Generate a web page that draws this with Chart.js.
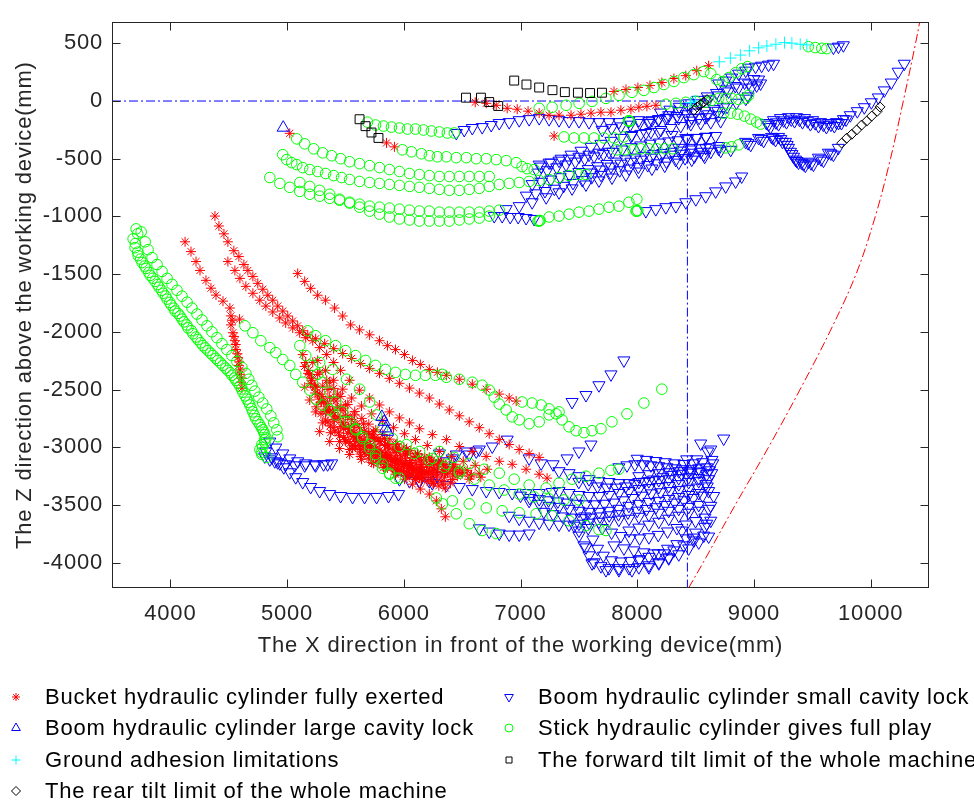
<!DOCTYPE html>
<html><head><meta charset="utf-8">
<script src="https://cdn.jsdelivr.net/npm/chart.js@4/dist/chart.umd.min.js"></script>
<style>
html,body{margin:0;padding:0;background:#fff;width:974px;height:801px;overflow:hidden;}
#wrap{position:absolute;left:0;top:0;width:974px;height:665px;}
#legend{position:absolute;left:0;top:0;width:974px;height:801px;pointer-events:none;}
.item{position:absolute;height:30px;line-height:30px;font-family:'Liberation Sans',Arial,sans-serif;font-size:22px;letter-spacing:0.8px;color:#000;white-space:nowrap;}
</style></head><body>
<div id="wrap"><canvas id="c"></canvas></div>
<div id="legend"></div>
<script>
// ---------- axis ticks & labels ----------
const xTickValues = [4000, 5000, 6000, 7000, 8000, 9000, 10000];
const yTickValues = [-4000, -3500, -3000, -2500, -2000, -1500, -1000, -500, 0, 500];
const xTitle = 'The X direction in front of the working device(mm)';
const yTitle = 'The Z direction above the working device(mm)';
const seriesNames = [
  'Bucket hydraulic cylinder fully exerted',
  'Boom hydraulic cylinder small cavity lock',
  'Boom hydraulic cylinder large cavity lock',
  'Stick hydraulic cylinder gives full play',
  'Ground adhesion limitations',
  'The forward tilt limit of the whole machine',
  'The rear tilt limit of the whole machine'
];

// ---------- Bucket hydraulic cylinder fully exerted (red *) ----------
const bucketUpperA = [[6612,-11],[6707,-20],[6792,-37],[6886,-63],[6972,-71],[7065,-88],[7160,-105],[7245,-123],[7330,-123],[7433,-123],[7518,-114],[7604,-105],[7689,-97],[7775,-97],[7860,-80],[7946,-71],[8014,-54],[8083,-46],[8160,-37]];
const bucketUpperB = [[7801,83],[7904,100],[8006,117],[8109,135],[8211,160],[8314,195],[8416,220],[8510,263],[8612,306]];
const bucketSingles = [[5023,-280],[5852,-363],[5920,-397],[7288,-303]];
const bucketLowA = [[4126,-1220],[4177,-1305],[4220,-1391],[4254,-1468],[4305,-1554],[4348,-1622],[4391,-1682],[4451,-1734],[4510,-1794],[4519,-1862],[4593,-1890],[4530,-1900],[4519,-1940],[4536,-2008],[4545,-2040],[4553,-2077],[4560,-2110],[4562,-2154],[4575,-2190],[4579,-2222],[4590,-2260],[4587,-2291],[4600,-2330],[4596,-2368],[4610,-2400],[4605,-2437],[4613,-2488]];
const bucketLowB = [[4382,-997],[4416,-1083],[4459,-1151],[4493,-1220],[4544,-1297],[4587,-1348],[4630,-1417],[4664,-1468],[4707,-1520],[4749,-1580],[4792,-1631],[4835,-1683],[4877,-1726],[4920,-1777],[4963,-1820],[5006,-1863],[5048,-1906],[5091,-1948],[5134,-1991],[5177,-2026],[5245,-2060],[5322,-2103],[5399,-2146],[5476,-2188],[5553,-2231],[5630,-2274],[5707,-2317],[5792,-2360],[5877,-2403],[5963,-2446],[6049,-2488],[6134,-2531],[6219,-2574],[6305,-2626],[6390,-2677],[6476,-2728],[6561,-2780],[6647,-2831],[6732,-2883],[6818,-2934],[6903,-2977],[6989,-3020],[7074,-3054],[7160,-3088]];
const bucketLowC = [[4493,-1391],[4553,-1468],[4596,-1537],[4647,-1606],[4707,-1666],[4766,-1726],[4818,-1777],[4877,-1828],[4937,-1880],[4988,-1923],[5048,-1966],[5108,-2008],[5160,-2051],[5220,-2077],[5279,-2137],[5339,-2197],[5399,-2266],[5458,-2334],[5536,-2420],[5621,-2506],[5707,-2574],[5792,-2634],[5877,-2694],[5963,-2746],[6049,-2789],[6134,-2840],[6245,-2891],[6365,-2934],[6476,-2994],[6587,-3037],[6706,-3080],[6818,-3122],[6929,-3148],[7048,-3191],[7160,-3234],[7228,-3268]];
const bucketLowD = [[5091,-1494],[5151,-1563],[5202,-1623],[5262,-1683],[5330,-1726],[5407,-1794],[5476,-1863],[5544,-1940],[5621,-1983],[5707,-2026],[5792,-2077],[5860,-2120],[5929,-2154],[6006,-2197],[6074,-2248],[6142,-2283],[6219,-2326],[6288,-2351],[6365,-2377],[6476,-2411],[6587,-2454],[6706,-2497],[6818,-2540],[6903,-2574],[6963,-2600]];
const bucketBlobA = [[5220,-2266],[5262,-2369],[5305,-2471],[5365,-2566],[5433,-2651],[5501,-2728],[5578,-2797],[5664,-2865],[5749,-2925],[5843,-2977],[5937,-3020],[6031,-3054],[6134,-3088],[6236,-3122],[6339,-3148],[6441,-3174],[6544,-3200],[6647,-3225]];
const bucketBlobB = [[5194,-2369],[5237,-2480],[5279,-2583],[5339,-2677],[5407,-2763],[5484,-2840],[5570,-2908],[5655,-2968],[5749,-3020],[5843,-3063],[5946,-3105],[6049,-3140],[6151,-3174],[6254,-3200],[6356,-3225],[6459,-3251],[6561,-3277]];
const bucketBlobC = [[5262,-2248],[5330,-2334],[5399,-2420],[5476,-2497],[5553,-2574],[5638,-2643],[5724,-2711],[5818,-2771],[5912,-2831],[6006,-2883],[6100,-2934],[6202,-2985],[6305,-3037],[6407,-3080],[6510,-3122],[6612,-3157],[6715,-3191]];
const bucketBlobD = [[5151,-2480],[5194,-2591],[5245,-2694],[5305,-2789],[5373,-2874],[5450,-2951],[5536,-3020],[5630,-3080],[5724,-3131],[5826,-3174],[5929,-3208],[6031,-3243],[6134,-3268],[6236,-3294],[6339,-3320]];
const bucketBlobE = [[5365,-2437],[5433,-2540],[5501,-2634],[5578,-2720],[5655,-2797],[5741,-2865],[5835,-2925],[5929,-2977],[6023,-3020],[6117,-3054],[6219,-3088],[6322,-3122],[6425,-3148]];
const bucketBlobF = [[5279,-2865],[5365,-2951],[5450,-3011],[5536,-3063],[5638,-3105],[5741,-3140],[5843,-3174],[5946,-3208],[6049,-3243],[6151,-3277],[6254,-3311],[6356,-3354]];
const bucketBlobG = [[5929,-3234],[6006,-3277],[6074,-3320],[6142,-3363],[6219,-3406],[6279,-3465],[6322,-3534],[6356,-3603]];
const bucketBlobH = [[5134,-2197],[5160,-2266],[5185,-2334],[5211,-2403],[5237,-2471],[5262,-2540],[5296,-2608],[5330,-2694]];
const bucketBlobI = [[5280,-2350],[5340,-2420],[5400,-2490],[5460,-2560],[5520,-2630],[5580,-2690],[5640,-2750],[5700,-2800],[5760,-2850],[5820,-2890],[5880,-2930],[5940,-2970],[6000,-3000],[6060,-3030],[6120,-3060],[6180,-3090],[6240,-3110],[6300,-3130],[6360,-3150],[6420,-3170],[6480,-3190]];
const bucketBlobJ = [[5200,-2450],[5240,-2530],[5290,-2610],[5340,-2690],[5400,-2760],[5460,-2820],[5520,-2880],[5580,-2930],[5650,-2980],[5720,-3020],[5790,-3060],[5860,-3090],[5930,-3120],[6000,-3150],[6070,-3180],[6140,-3200],[6210,-3220],[6280,-3240],[6350,-3260],[6420,-3280]];
const bucketBlobK = [[5350,-2500],[5400,-2580],[5460,-2660],[5520,-2730],[5590,-2800],[5660,-2860],[5730,-2910],[5800,-2950],[5870,-2990],[5940,-3030],[6010,-3060],[6080,-3090],[6150,-3120],[6220,-3150],[6290,-3170],[6360,-3190],[6430,-3210],[6500,-3230],[6570,-3250]];
const bucketBlobL = [[5420,-2600],[5480,-2680],[5550,-2760],[5620,-2830],[5700,-2890],[5780,-2940],[5860,-2980],[5940,-3010],[6020,-3040],[6100,-3080],[6180,-3110],[6260,-3140],[6340,-3170],[6420,-3200],[6500,-3220],[6580,-3240],[6660,-3260]];
const bucketBlobM = [[5600,-2950],[5680,-3000],[5760,-3050],[5840,-3090],[5920,-3130],[6000,-3170],[6080,-3200],[6160,-3230],[6240,-3260],[6320,-3290],[6400,-3310]];
const bucketBlobN = [[5500,-2950],[5560,-3010],[5630,-3060],[5700,-3100],[5780,-3140],[5860,-3180],[5940,-3220],[6020,-3250],[6100,-3280]];
const bucketBlobO = [[5300,-2560],[5345,-2620],[5390,-2680],[5435,-2735],[5480,-2785],[5525,-2830],[5570,-2870],[5615,-2905],[5660,-2940],[5705,-2970],[5750,-3000],[5795,-3025],[5840,-3050],[5885,-3075],[5930,-3100],[5975,-3120],[6020,-3140],[6065,-3160],[6110,-3180],[6155,-3195],[6200,-3210],[6245,-3225],[6290,-3240]];
const bucketBlobP = [[5400,-2700],[5445,-2750],[5490,-2800],[5535,-2845],[5580,-2885],[5625,-2920],[5670,-2955],[5715,-2985],[5760,-3015],[5805,-3045],[5850,-3070],[5895,-3095],[5940,-3115],[5985,-3135],[6030,-3155],[6075,-3175],[6120,-3195],[6165,-3215],[6210,-3235]];
const bucketBlobQ = [[5350,-2780],[5395,-2830],[5440,-2875],[5485,-2915],[5530,-2950],[5575,-2985],[5620,-3015],[5665,-3045],[5710,-3070],[5755,-3095],[5800,-3120],[5845,-3140],[5890,-3160],[5935,-3180],[5980,-3200],[6025,-3215],[6070,-3230],[6115,-3245],[6160,-3260]];
const bucketBlobR = [[5500,-2820],[5545,-2870],[5590,-2915],[5635,-2955],[5680,-2990],[5725,-3025],[5770,-3055],[5815,-3080],[5860,-3105],[5905,-3125],[5950,-3145],[5995,-3165],[6040,-3185],[6085,-3200],[6130,-3215],[6175,-3230]];
const bucketBlobS = [[5250,-2650],[5290,-2710],[5330,-2765],[5370,-2815],[5410,-2860],[5450,-2900],[5495,-2935],[5540,-2965],[5585,-2995],[5630,-3020],[5675,-3045],[5720,-3065],[5765,-3085],[5810,-3105]];
const bucketBlobT = [[5700,-2880],[5745,-2915],[5790,-2950],[5835,-2985],[5880,-3015],[5925,-3045],[5970,-3070],[6015,-3095],[6060,-3115],[6105,-3135],[6150,-3150],[6195,-3165],[6240,-3180],[6285,-3195],[6330,-3210],[6375,-3225],[6420,-3240]];
const bucketBlobU = [[5150,-2300],[5180,-2360],[5210,-2420],[5245,-2480],[5280,-2540],[5315,-2600],[5350,-2650],[5390,-2700]];
const bucketBlobV = [[5850,-3150],[5900,-3175],[5950,-3195],[6000,-3215],[6050,-3235],[6100,-3255],[6150,-3275],[6200,-3295],[6250,-3315],[6300,-3335]];

// ---------- Boom hydraulic cylinder small cavity lock (blue inverted triangle) ----------
const boomSmallUpperA = [[6450,-277],[6518,-251],[6587,-234],[6672,-226],[6749,-208],[6818,-191],[6903,-183],[6989,-166],[7074,-157],[7160,-148],[7245,-157],[7330,-166],[7416,-174],[7501,-174],[7587,-183],[7672,-183],[7758,-183],[7843,-183],[7929,-174],[8014,-166],[8126,-166],[8245,-148],[8356,-148],[8467,-148],[8587,-140],[8698,-123]];
const boomSmallWaveA = [[9108,-191],[9168,-166],[9228,-148],[9296,-140],[9365,-140],[9433,-148],[9502,-166],[9570,-183],[9638,-191],[9707,-183],[9767,-157],[9826,-123],[9886,-88],[9946,-54],[10006,-11],[10066,31],[10117,92],[10177,160],[10236,254],[10288,323],[9142,-225],[9211,-200],[9279,-183],[9348,-174],[9416,-183],[9484,-200],[9553,-217],[9621,-225],[9689,-217],[9750,-191]];
const boomSmallWaveC = [[9125,-205],[9190,-185],[9255,-168],[9320,-160],[9390,-162],[9460,-175],[9525,-192],[9595,-205],[9660,-205],[9725,-190],[9790,-160]];
const boomSmallWaveB = [[7160,-551],[7245,-534],[7330,-517],[7416,-500],[7501,-483],[7587,-465],[7672,-448],[7758,-440],[8356,-406],[8467,-406],[8587,-406],[8698,-414],[8929,-354],[9040,-320],[9151,-311],[9211,-311],[9271,-354],[9313,-440],[9356,-508],[9407,-534],[9467,-526],[9553,-491],[9638,-448],[9723,-406],[8972,-380],[9083,-345],[9185,-337],[9245,-354],[9296,-406],[9339,-483],[9382,-534],[9441,-560],[9510,-551],[9596,-517],[9681,-465]];
const boomSmallWaveD = [[8950,-365],[9060,-330],[9165,-322],[9230,-330],[9285,-380],[9325,-460],[9368,-520],[9425,-548],[9490,-540],[9575,-505],[9660,-455]];
const boomSmallFanA = [[7177,-568],[7262,-534],[7348,-500],[7433,-465],[7519,-431],[7604,-397],[7689,-371],[7775,-345],[7860,-320],[7946,-303],[8031,-285],[8117,-268],[8202,-251],[8288,-234],[8373,-217],[8459,-200],[8544,-191],[8630,-183],[8715,-174]];
const boomSmallFanB = [[7604,-620],[7689,-594],[7775,-568],[7860,-543],[7946,-526],[8031,-508],[8117,-491],[8202,-474],[8288,-465],[8373,-457],[8459,-448],[8544,-440],[8630,-440],[8715,-431],[8801,-423]];
const boomSmallFanC = [[6877,-937],[6989,-911],[7100,-877],[7220,-834],[7330,-791],[7442,-757],[7561,-723],[7672,-688],[7784,-663],[7903,-637],[8014,-611],[8126,-585],[8236,-560],[8356,-534],[8467,-508],[8578,-483]];
const boomSmallFanD = [[6775,-997],[6843,-997],[6912,-1005],[6980,-1005],[7048,-1014],[7117,-1022]];
const boomSmallFanE = [[8074,-954],[8159,-937],[8245,-920],[8331,-911],[8416,-877],[8502,-851],[8587,-825],[8672,-783],[8758,-740],[8843,-697],[8895,-654]];
const boomSmallFanF = [[7955,-294],[8074,-277],[8185,-268],[8297,-294],[8416,-320],[8502,-320],[8587,-311],[8672,-303]];
const boomSmallFanG = [[8698,152],[8758,177],[8809,203],[8869,237],[8929,263],[8954,289],[9014,297],[9066,306],[9125,315],[9168,323]];
const boomSmallFanH = [[8100,-191],[8185,-157],[8270,-123],[8356,-88],[8441,-54],[8527,-20],[8612,14],[8698,49],[8783,83],[8869,117],[8954,152],[9040,186]];
const boomSmallFanI = [[8980,117],[9023,135],[9057,152],[9681,463],[9724,471],[9766,483]];
const boomSmallFanJ = [[7150,-620],[7230,-600],[7310,-575],[7390,-550],[7470,-525],[7550,-500],[7630,-480],[7710,-460],[7790,-440],[7870,-420],[7950,-400],[8030,-385],[8110,-370],[8190,-360],[8270,-350],[8350,-340],[8430,-330],[8510,-320],[8590,-310]];
const boomSmallFanK = [[7100,-720],[7180,-700],[7260,-680],[7340,-660],[7420,-640],[7500,-615],[7580,-590],[7660,-565],[7740,-545],[7820,-525],[7900,-505],[7980,-490],[8060,-475],[8140,-460],[8220,-450],[8300,-440],[8380,-430],[8460,-420],[8540,-410],[8620,-400],[8700,-390]];
const boomSmallFanL = [[7050,-820],[7130,-800],[7210,-780],[7290,-760],[7370,-735],[7450,-710],[7530,-685],[7610,-660],[7690,-640],[7770,-620],[7850,-600],[7930,-585],[8010,-570],[8090,-555],[8170,-540],[8250,-525],[8330,-510],[8410,-495],[8490,-480],[8570,-465]];
const boomSmallFanM = [[7700,-250],[7780,-235],[7860,-220],[7940,-205],[8020,-190],[8100,-175],[8180,-160],[8260,-145],[8340,-130],[8420,-115],[8500,-100],[8580,-85],[8660,-70],[8740,-55]];
const boomSmallFanN = [[8200,-100],[8280,-75],[8360,-50],[8440,-20],[8520,10],[8600,40],[8680,70],[8760,100],[8840,130],[8920,160],[9000,190]];
const boomSmallFanO = [[8450,-170],[8530,-145],[8610,-115],[8690,-85],[8770,-50],[8850,-15],[8930,20],[8950,40]];
const boomSmallLowA = [[4852,-2951],[4903,-3003],[4963,-3054],[5023,-3097],[5091,-3122],[5160,-3140],[5237,-3148],[5313,-3148],[5382,-3140]];
const boomSmallLowB = [[4818,-3037],[4869,-3088],[4920,-3131],[4972,-3174],[5023,-3217],[5074,-3260],[5134,-3302],[5202,-3345],[5279,-3380],[5365,-3406],[5459,-3423],[5561,-3431],[5664,-3431],[5767,-3431],[5869,-3423],[5955,-3406]];
const boomSmallLowC = [[4809,-3080],[4852,-3105],[4895,-3122],[4938,-3140],[4989,-3148],[5066,-3157],[5151,-3157],[5245,-3157],[5347,-3148]];
const boomSmallMidA = [[5963,-3277],[6049,-3294],[6134,-3294],[6219,-3294],[6288,-3251],[6279,-3148],[6365,-3122],[6450,-3063],[6536,-3037],[6621,-3037]];
const boomSmallMidB = [[7442,-2608],[7561,-2548],[7672,-2463],[7775,-2369],[7886,-2248]];
const boomSmallMidC = [[7074,-3097],[7177,-3140],[7279,-3148],[7399,-3097],[7501,-3037],[7604,-2977]];
const boomSmallMidD = [[6305,-3054],[6416,-3097],[6561,-3063],[6647,-3020],[6758,-2994],[6886,-2934]];
const boomSmallMidE = [[6647,-3703],[6732,-3731],[6818,-3748],[6903,-3757],[6989,-3757],[7074,-3748]];
const boomSmallMidF = [[6134,-3294],[6245,-3311],[6365,-3328],[6476,-3345],[6587,-3363],[6707,-3380],[6818,-3388],[6929,-3397],[7048,-3397],[7160,-3397],[7271,-3388]];
const boomSmallClusterA = [[7843,-3174],[7912,-3157],[7980,-3148],[8048,-3148],[8117,-3157],[8185,-3165],[8254,-3174],[8322,-3183],[8390,-3191],[8459,-3191],[8527,-3183],[8595,-3174]];
const boomSmallClusterB = [[7330,-3380],[7416,-3397],[7501,-3414],[7587,-3423],[7672,-3423],[7758,-3414],[7843,-3397],[7929,-3380],[8014,-3363],[8100,-3354],[8185,-3345],[8270,-3337],[8356,-3320],[8441,-3302],[8527,-3294],[8612,-3277]];
const boomSmallClusterC = [[7074,-3465],[7160,-3491],[7245,-3508],[7330,-3517],[7416,-3534],[7501,-3551],[7587,-3560],[7672,-3560],[7758,-3551],[7843,-3534],[7929,-3508],[8014,-3491],[8100,-3474],[8185,-3465],[8270,-3448],[8356,-3431],[8441,-3414],[8527,-3397],[8612,-3380]];
const boomSmallClusterD = [[6903,-3594],[6989,-3620],[7074,-3637],[7160,-3654],[7245,-3663],[7330,-3671],[7416,-3671],[7501,-3663],[7587,-3654],[7672,-3646],[7758,-3637],[7843,-3628],[7929,-3620],[8014,-3603],[8100,-3586],[8185,-3568],[8270,-3551],[8356,-3534],[8441,-3517],[8527,-3500]];
const boomSmallClusterE = [[7459,-3680],[7501,-3766],[7544,-3851],[7587,-3937],[7630,-3997],[7689,-4031],[7758,-4048],[7843,-4048],[7929,-4048],[8014,-4040],[8100,-4023],[8185,-3997],[8270,-3963],[8356,-3928],[8441,-3877],[8527,-3825],[8612,-3774]];
const boomSmallClusterF = [[7801,-3851],[7886,-3877],[7972,-3894],[8057,-3911],[8143,-3920],[8228,-3920],[8314,-3894],[8399,-3851],[8485,-3808],[8570,-3766]];
const boomSmallClusterG = [[8014,-3251],[8100,-3234],[8185,-3225],[8270,-3217],[8356,-3208],[8441,-3208],[8527,-3217],[8595,-3234]];
const boomSmallClusterH = [[7929,-3722],[8014,-3697],[8100,-3671],[8185,-3646],[8270,-3620],[8356,-3594],[8441,-3568],[8527,-3551],[8612,-3534]];
const boomSmallClusterI = [[7330,-3208],[7416,-3225],[7501,-3251],[7587,-3277],[7672,-3294],[7758,-3302],[7843,-3311],[7929,-3311],[8014,-3302],[8100,-3294],[8185,-3285],[8270,-3277],[8356,-3268],[8441,-3260]];
const boomSmallClusterJ = [[7000,-3420],[7080,-3440],[7160,-3450],[7240,-3460],[7320,-3470],[7400,-3480],[7480,-3490],[7560,-3495],[7640,-3495],[7720,-3490],[7800,-3480],[7880,-3460],[7960,-3440],[8040,-3420],[8120,-3400],[8200,-3390],[8280,-3380],[8360,-3370],[8440,-3360],[8520,-3350],[8600,-3340]];
const boomSmallClusterK = [[7200,-3560],[7280,-3580],[7360,-3600],[7440,-3610],[7520,-3615],[7600,-3610],[7680,-3600],[7760,-3590],[7840,-3580],[7920,-3565],[8000,-3550],[8080,-3535],[8160,-3520],[8240,-3500],[8320,-3480],[8400,-3460],[8480,-3440],[8560,-3420]];
const boomSmallClusterL = [[7500,-3300],[7580,-3320],[7660,-3340],[7740,-3350],[7820,-3350],[7900,-3340],[7980,-3320],[8060,-3300],[8140,-3280],[8220,-3260],[8300,-3240],[8380,-3230],[8460,-3220],[8540,-3210],[8620,-3200]];
const boomSmallClusterM = [[7550,-3600],[7580,-3700],[7620,-3800],[7660,-3880],[7710,-3940],[7780,-3980],[7860,-3990],[7940,-3985],[8020,-3970],[8100,-3950],[8180,-3920],[8260,-3880],[8340,-3840],[8420,-3790],[8500,-3740],[8580,-3690]];
const boomSmallClusterN = [[7700,-3700],[7780,-3740],[7860,-3770],[7940,-3790],[8020,-3790],[8100,-3780],[8180,-3760],[8260,-3730],[8340,-3700],[8420,-3670],[8500,-3640],[8580,-3610]];
const boomSmallClusterO = [[8000,-3100],[8080,-3110],[8160,-3120],[8240,-3130],[8320,-3140],[8400,-3145],[8480,-3140],[8560,-3130],[8640,-3110]];
const boomSmallOutliers = [[8424,-3105],[8510,-3105],[8630,-3020],[8741,-2925],[8527,-3268],[8587,-3320],[8638,-3225],[8595,-3663],[8485,-3783],[8382,-3722],[8270,-3954],[8185,-4006],[8100,-4040],[8014,-3980],[7955,-4065],[7843,-4065],[7732,-4065],[7613,-4006],[7561,-3868],[7501,-3722],[8544,-2968],[8604,-3037],[8647,-3140],[8655,-3423],[8630,-3508],[8630,-3637]];

// ---------- Boom hydraulic cylinder large cavity lock (blue triangle) ----------
const boomLargePoints = [[4967,-231],[5812,-2737],[5832,-2780],[5846,-2837],[5861,-2866]];

// ---------- Stick hydraulic cylinder gives full play (green o) ----------
const stickUpperA = [[5689,-183],[5758,-208],[5826,-217],[5894,-226],[5963,-234],[6031,-243],[6100,-243],[6168,-251],[6236,-260],[6305,-268],[6373,-277],[6433,-277]];
const stickUpperB = [[5988,-423],[6066,-440],[6151,-457],[6219,-474],[6288,-483],[6365,-483],[6450,-491],[6536,-491],[6621,-500],[6707,-500],[6792,-508],[6877,-517],[6963,-534],[7014,-568],[7057,-586],[7117,-594]];
const stickUpperC = [[5083,-328],[5151,-371],[5228,-414],[5305,-449],[5382,-474],[5459,-500],[5536,-526],[5621,-543],[5707,-560],[5792,-577],[5877,-594],[5963,-611],[6049,-628],[6134,-637],[6219,-646],[6305,-654],[6390,-654],[6476,-654],[6561,-654],[6647,-654],[6732,-654]];
const stickUpperD = [[4963,-465],[4997,-508],[5040,-534],[5083,-551],[5134,-577],[5194,-594],[5262,-611],[5330,-628],[5399,-646],[5467,-663],[5536,-680],[5621,-697],[5707,-706],[5792,-714],[5877,-723],[5963,-731],[6049,-740],[6134,-748],[6219,-757],[6305,-766],[6390,-774],[6476,-774],[6561,-766],[6647,-757],[6732,-740],[6818,-723],[6903,-714],[6989,-706],[7074,-697],[7160,-689],[7245,-680],[7330,-663],[7416,-646],[7501,-637],[7561,-637]];
const stickUpperE = [[4852,-663],[4938,-714],[5023,-748],[5109,-783],[5194,-808],[5279,-825],[5365,-843],[5450,-860],[5536,-877],[5621,-894],[5707,-911],[5792,-920],[5877,-928],[5963,-937],[6049,-946],[6134,-954],[6219,-954],[6305,-963],[6390,-963],[6476,-963],[6561,-963],[6647,-963],[6732,-954],[6818,-946]];
const stickUpperF = [[5109,-706],[5194,-740],[5279,-774],[5365,-808],[5450,-851],[5536,-885],[5621,-920],[5707,-954],[5792,-980],[5877,-1005],[5963,-1022],[6049,-1031],[6134,-1040],[6219,-1040],[6305,-1040],[6390,-1040],[6476,-1031],[6561,-1022],[6647,-1014],[6732,-997]];
const stickUpperG = [[7150,-1040],[7160,-1040],[7168,-1035],[7245,-1005],[7330,-997],[7416,-980],[7501,-963],[7587,-954],[7672,-937],[7758,-920],[7843,-911],[7929,-877],[7997,-851],[7990,-954],[7997,-954],[8005,-950]];
const stickUpperH = [[7826,-423],[7894,-423],[7963,-423],[8031,-414],[8100,-414],[8168,-414],[8236,-414],[8305,-414]];
const stickUpperI = [[7373,-311],[7459,-320],[7544,-320],[7630,-320],[7715,-320],[7801,-320],[7886,-311],[7925,-174],[7930,-170],[7935,-178]];
const stickRidgeA = [[7160,-63],[7271,-54],[7391,-37],[7502,-20],[7613,-3],[7732,23],[7844,49],[7955,75],[8057,92],[8143,117],[8228,143],[8314,169],[8399,203],[8485,229],[8570,255],[8630,238],[8681,186],[8733,169],[8784,203],[8844,246],[8895,280],[8946,298]];
const stickRidgeB = [[8245,-28],[8331,-20],[8416,-11],[8502,-3],[8587,-11],[8638,6],[8698,23],[8758,23],[8809,23],[8869,14],[8929,23],[8954,49]];
const stickWaves = [[8741,-105],[8801,-105],[8861,-114],[8920,-131],[8972,-157],[9023,-183],[9057,-200],[8758,-406],[8809,-397],[8869,-380],[9467,471],[9525,463],[9581,457],[9624,454]];
const stickLowA = [[3707,-1108],[3681,-1194],[3698,-1271],[3724,-1340],[3758,-1400],[3792,-1451],[3827,-1511],[3869,-1563],[3903,-1614],[3938,-1666],[3972,-1717],[4006,-1768],[4040,-1820],[4083,-1863],[4117,-1914],[4151,-1966],[4194,-2017],[4236,-2068],[4279,-2120],[4322,-2163],[4365,-2206],[4407,-2248],[4450,-2291],[4493,-2334],[4527,-2377],[4561,-2420],[4596,-2471],[4621,-2523],[4655,-2583],[4681,-2634],[4707,-2694],[4732,-2754],[4767,-2806],[4792,-2849],[4809,-2891],[4809,-2934],[4784,-2977],[4767,-3020],[4784,-3063],[4826,-3088]];
const stickLowB = [[3750,-1134],[3784,-1220],[3809,-1288],[3843,-1357],[3886,-1417],[3929,-1477],[3972,-1537],[4014,-1588],[4057,-1640],[4100,-1691],[4143,-1743],[4185,-1794],[4228,-1846],[4271,-1897],[4314,-1948],[4356,-2000],[4399,-2051],[4442,-2103],[4484,-2154],[4527,-2206],[4570,-2257],[4613,-2308],[4647,-2360],[4672,-2411],[4698,-2463],[4724,-2514],[4758,-2566],[4792,-2617],[4826,-2668],[4861,-2728],[4886,-2789],[4912,-2849],[4920,-2909]];
const stickLowK = [[3720,-1150],[3700,-1235],[3720,-1310],[3745,-1370],[3780,-1430],[3815,-1485],[3850,-1535],[3890,-1590],[3925,-1640],[3960,-1690],[3995,-1745],[4030,-1795],[4065,-1840],[4100,-1890],[4140,-1940],[4180,-1990],[4220,-2045],[4260,-2095],[4300,-2140],[4345,-2185],[4390,-2230],[4430,-2270],[4475,-2315],[4515,-2355],[4550,-2400],[4580,-2445],[4610,-2495],[4640,-2555],[4670,-2610],[4695,-2665],[4720,-2725],[4750,-2780],[4780,-2830],[4800,-2870],[4820,-2920],[4810,-2960],[4790,-3000],[4780,-3045]];
const stickLowC = [[4639,-1948],[4707,-2008],[4775,-2077],[4852,-2137],[4903,-2180],[4963,-2240],[5023,-2291],[5074,-2369],[5134,-2437],[5194,-2505],[5245,-2583],[5305,-2634],[5365,-2677],[5416,-2720],[5501,-2780],[5587,-2840],[5647,-2925],[5707,-3011],[5758,-3097],[5818,-3183],[5878,-3234],[5963,-3268]];
const stickLowL = [[5109,-2120],[5160,-2206],[5220,-2291],[5262,-2369],[5305,-2437],[5365,-2523],[5416,-2608],[5476,-2694],[5536,-2780],[5587,-2849],[5647,-2908],[5707,-2977],[5758,-3063],[5818,-3148],[5878,-3225],[5929,-3268]];
const stickLowD = [[5177,-1991],[5245,-2034],[5330,-2077],[5416,-2120],[5501,-2163],[5587,-2206],[5672,-2248],[5758,-2291],[5843,-2326],[5929,-2351],[6014,-2369],[6100,-2377],[6185,-2377],[6271,-2377],[6331,-2369],[6365,-2394],[6476,-2411],[6587,-2437],[6672,-2463],[6732,-2505],[6775,-2566],[6818,-2626],[6877,-2677],[6929,-2737],[6989,-2763],[7074,-2797],[7160,-2780],[7245,-2720],[7330,-2694]];
const stickLowE = [[7014,-2608],[7100,-2617],[7177,-2634],[7245,-2668],[7305,-2711],[7356,-2763],[7416,-2823],[7476,-2857],[7544,-2874],[7613,-2857],[7689,-2840],[7783,-2780],[7912,-2711],[8057,-2617],[8211,-2497]];
const stickLowF = [[5279,-2266],[5390,-2326],[5510,-2411],[5621,-2497],[5707,-2608],[5767,-2720],[5818,-2840],[5903,-2925],[6023,-2977],[6134,-3037],[6245,-3097],[6365,-3148],[6476,-3208]];
const stickLowG = [[6305,-3037],[6433,-3088],[6561,-3140],[6689,-3191],[6818,-3225],[6946,-3277],[7074,-3328],[7220,-3354],[7330,-3311],[7442,-3277],[7561,-3251],[7672,-3225],[7775,-3200],[7843,-3191]];
const stickLowH = [[6279,-3440],[6416,-3465],[6561,-3491],[6707,-3526],[6843,-3551],[6989,-3568],[7134,-3577],[7271,-3594],[7416,-3637],[7561,-3680],[7672,-3714],[7732,-3722]];
const stickLowI = [[6331,-3491],[6450,-3577],[6561,-3663],[6672,-3722],[6792,-3748]];
const stickLowJ = [[5963,-2994],[6091,-3054],[6219,-3114],[6348,-3174],[6476,-3225],[6604,-3277],[6732,-3328],[6860,-3371],[6989,-3406],[7117,-3431],[7245,-3448],[7373,-3457],[7501,-3457]];

// ---------- Ground adhesion limitations (cyan +) ----------
const groundPoints = [[8456,-14],[8499,0],[8704,340],[8798,372],[8884,398],[8963,435],[9040,461],[9111,477],[9188,492],[9262,506],[9325,501],[9397,492],[9453,486]];

// ---------- Forward tilt limit (black square) ----------
const forwardPoints = [[5621,-158],[5672,-218],[5723,-273],[5783,-320],[6533,29],[6661,29],[6732,-9],[6809,-43],[6946,177],[7051,143],[7160,117],[7274,94],[7380,77],[7492,72],[7596,69],[7698,72]];

// ---------- Rear tilt limit (black diamond) ----------
const rearPoints = [[8485,-80],[8513,-51],[8542,-31],[8570,-9],[8598,12],[9752,-365],[9795,-322],[9838,-288],[9880,-251],[9923,-208],[9966,-174],[10009,-131],[10057,-88],[10080,-51]];

// ---------- reference lines ----------
const baseLineX = [3500, 8430, 8430];
const baseLineY = [0, 0, -4220];
const limitCurveX = [8440, 8565, 8840, 9125, 9395, 9650, 9875, 10040, 10170, 10280, 10385, 10420];
const limitCurveY = [-4220, -4000, -3500, -3000, -2500, -2000, -1500, -1000, -500, 0, 500, 683];

// ---------- build ----------
const pts = (...arrs) => [].concat(...arrs).map(p => ({x: p[0], y: p[1]}));
const zip = (xs, ys) => xs.map((x, i) => ({x: x, y: ys[i]}));

const markerSpecs = [
  {style: 'star', color: '#ff0000', r: 5, rot: 0, order: 5},
  {style: 'triangle', color: '#0000ff', r: 7, rot: 180, order: 6},
  {style: 'triangle', color: '#0000ff', r: 7, rot: 0, order: 3},
  {style: 'circle', color: '#00ff00', r: 5.3, rot: 0, order: 4},
  {style: 'cross', color: '#00ffff', r: 6, rot: 0, order: 2},
  {style: 'rect', color: '#000000', r: 6.3, rot: 0, order: 1},
  {style: 'rectRot', color: '#000000', r: 5, rot: 0, order: 0}
];
const seriesData = [
  pts(bucketUpperA, bucketUpperB, bucketSingles, bucketLowA, bucketLowB, bucketLowC, bucketLowD, bucketBlobA, bucketBlobB, bucketBlobC, bucketBlobD, bucketBlobE, bucketBlobF, bucketBlobG, bucketBlobH, bucketBlobI, bucketBlobJ, bucketBlobK, bucketBlobL, bucketBlobM, bucketBlobN, bucketBlobO, bucketBlobP, bucketBlobQ, bucketBlobR, bucketBlobS, bucketBlobT, bucketBlobU, bucketBlobV),
  pts(boomSmallUpperA, boomSmallWaveA, boomSmallWaveC, boomSmallWaveB, boomSmallWaveD, boomSmallFanA, boomSmallFanB, boomSmallFanC, boomSmallFanD, boomSmallFanE, boomSmallFanF, boomSmallFanG, boomSmallFanH, boomSmallFanI, boomSmallFanJ, boomSmallFanK, boomSmallFanL, boomSmallFanM, boomSmallFanN, boomSmallFanO, boomSmallLowA, boomSmallLowB, boomSmallLowC, boomSmallMidA, boomSmallMidB, boomSmallMidC, boomSmallMidD, boomSmallMidE, boomSmallMidF, boomSmallClusterA, boomSmallClusterB, boomSmallClusterC, boomSmallClusterD, boomSmallClusterE, boomSmallClusterF, boomSmallClusterG, boomSmallClusterH, boomSmallClusterI, boomSmallClusterJ, boomSmallClusterK, boomSmallClusterL, boomSmallClusterM, boomSmallClusterN, boomSmallClusterO, boomSmallOutliers),
  pts(boomLargePoints),
  pts(stickUpperA, stickUpperB, stickUpperC, stickUpperD, stickUpperE, stickUpperF, stickUpperG, stickUpperH, stickUpperI, stickRidgeA, stickRidgeB, stickWaves, stickLowA, stickLowB, stickLowK, stickLowC, stickLowL, stickLowD, stickLowE, stickLowF, stickLowG, stickLowH, stickLowI, stickLowJ),
  pts(groundPoints),
  pts(forwardPoints),
  pts(rearPoints)
];

const datasets = seriesNames.map((name, i) => {
  const m = markerSpecs[i];
  return {
    label: name, data: seriesData[i], showLine: false, order: m.order,
    pointStyle: m.style, pointRadius: m.r, pointRotation: m.rot,
    pointBorderColor: m.color, pointBackgroundColor: 'rgba(0,0,0,0)', pointBorderWidth: 1,
    borderColor: m.color, backgroundColor: 'rgba(0,0,0,0)'
  };
});
datasets.push({label: 'base', data: zip(baseLineX, baseLineY), showLine: true, order: 8,
  borderColor: '#0000ff', borderWidth: 1, borderDash: [9, 3, 2, 3], pointRadius: 0, tension: 0});
datasets.push({label: 'limit', data: zip(limitCurveX, limitCurveY), showLine: true, order: 8,
  borderColor: '#ff0000', borderWidth: 1, borderDash: [9, 3, 2, 3], pointRadius: 0, tension: 0.35});

const FONT = "'Liberation Sans', Arial, sans-serif";
const AXC = '#262626';

const boxPlugin = {
  id: 'box',
  beforeDraw(chart) { chart.ctx.letterSpacing = '0.8px'; },
  afterDraw(chart) {
    const ctx = chart.ctx, a = chart.chartArea, xs = chart.scales.x, ys = chart.scales.y;
    ctx.save();
    ctx.strokeStyle = AXC; ctx.lineWidth = 1;
    const L = Math.round(a.left) + 0.5, R = Math.round(a.right) - 0.5, T = Math.round(a.top) + 0.5, B = Math.round(a.bottom) - 0.5;
    ctx.strokeRect(L, T, R - L, B - T);
    ctx.beginPath();
    xTickValues.forEach(v => {
      const p = Math.round(xs.getPixelForValue(v)) + 0.5;
      ctx.moveTo(p, B); ctx.lineTo(p, B - 8);
      ctx.moveTo(p, T); ctx.lineTo(p, T + 8);
    });
    yTickValues.forEach(v => {
      const p = Math.round(ys.getPixelForValue(v)) + 0.5;
      ctx.moveTo(L, p); ctx.lineTo(L + 8, p);
      ctx.moveTo(R, p); ctx.lineTo(R - 8, p);
    });
    ctx.stroke();
    ctx.restore();
  }
};

new Chart(document.getElementById('c'), {
  type: 'scatter',
  data: {datasets: datasets},
  options: {
    animation: false, responsive: true, maintainAspectRatio: false, events: [],
    layout: {padding: {left: 0, right: 45, top: 16, bottom: 0}, autoPadding: false},
    plugins: {legend: {display: false}, tooltip: {enabled: false}},
    scales: {
      x: {
        type: 'linear', min: 3500, max: 10500,
        grid: {display: false, drawTicks: false}, border: {display: false},
        afterBuildTicks: s => { s.ticks = xTickValues.map(v => ({value: v})); },
        afterFit: s => { s.height = 77; },
        ticks: {padding: 13, color: AXC, font: {family: FONT, size: 22}, maxRotation: 0, autoSkip: false, callback: v => String(v)},
        title: {display: true, text: xTitle, color: AXC, font: {family: FONT, size: 22}, padding: {top: 0, bottom: 6}}
      },
      y: {
        type: 'linear', min: -4220, max: 683,
        grid: {display: false, drawTicks: false}, border: {display: false},
        afterBuildTicks: s => { s.ticks = yTickValues.map(v => ({value: v})); },
        afterFit: s => { s.width = 112; },
        ticks: {padding: 9, color: AXC, font: {family: FONT, size: 22}, autoSkip: false, callback: v => String(v)},
        title: {display: true, text: yTitle, color: AXC, font: {family: FONT, size: 22}, padding: {top: 12, bottom: 0}}
      }
    }
  },
  plugins: [boxPlugin]
});

// ---------- legend (HTML, two columns) ----------
function drawMarker(ctx, m, x, y, r) {
  ctx.strokeStyle = m.color; ctx.lineWidth = 1; ctx.beginPath();
  if (m.style === 'star') {
    for (let k = 0; k < 4; k++) { const a = k * Math.PI / 4; ctx.moveTo(x - Math.cos(a) * r, y - Math.sin(a) * r); ctx.lineTo(x + Math.cos(a) * r, y + Math.sin(a) * r); }
  } else if (m.style === 'triangle') {
    const s = m.rot ? -1 : 1;
    for (let k = 0; k < 3; k++) { const a = k * 2 * Math.PI / 3; const px = x + Math.sin(a) * r, py = y - s * Math.cos(a) * r; k ? ctx.lineTo(px, py) : ctx.moveTo(px, py); }
    ctx.closePath();
  } else if (m.style === 'circle') {
    ctx.arc(x, y, r, 0, Math.PI * 2);
  } else if (m.style === 'cross') {
    ctx.moveTo(x - r, y); ctx.lineTo(x + r, y); ctx.moveTo(x, y - r); ctx.lineTo(x, y + r);
  } else if (m.style === 'rect') {
    const h = r * 0.75; ctx.rect(x - h, y - h, 2 * h, 2 * h);
  } else if (m.style === 'rectRot') {
    ctx.moveTo(x - r, y); ctx.lineTo(x, y - r); ctx.lineTo(x + r, y); ctx.lineTo(x, y + r); ctx.closePath();
  }
  ctx.stroke();
}
const legendEl = document.getElementById('legend');
const legendMarkerR = [4, 5, 5, 4, 4.5, 4, 4.5];
seriesNames.forEach((name, i) => {
  const col = i % 2, row = Math.floor(i / 2);
  const cy = 697 + row * 31.3;
  const mx = col === 0 ? 16 : 509;
  const tx = col === 0 ? 45 : 538;
  const item = document.createElement('div');
  item.className = 'item';
  item.style.left = tx + 'px';
  item.style.top = Math.round(cy - 15) + 'px';
  item.textContent = name;
  legendEl.appendChild(item);
  const cv = document.createElement('canvas');
  cv.width = 20; cv.height = 20;
  cv.style.position = 'absolute';
  cv.style.left = (mx - 10) + 'px';
  cv.style.top = Math.round(cy - 10) + 'px';
  legendEl.appendChild(cv);
  drawMarker(cv.getContext('2d'), markerSpecs[i], 10, 10, legendMarkerR[i]);
});
</script>
</body></html>
